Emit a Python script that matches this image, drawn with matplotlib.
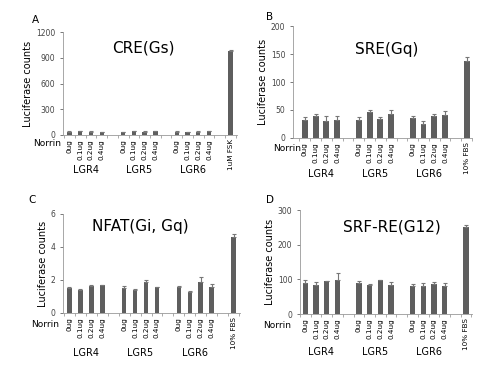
import numpy as np
import matplotlib
matplotlib.use('Agg')
import matplotlib.pyplot as plt

plt.rcParams['font.family'] = 'DejaVu Sans'

doses = ['0ug', '0.1ug', '0.2ug', '0.4ug']
groups = ['LGR4', 'LGR5', 'LGR6']

# panel A - CRE(Gs)
cre_vals = [38, 42, 40, 33, 35, 46, 38, 45, 38, 33, 38, 44, 980]
cre_err = [3, 3, 3, 2, 3, 4, 3, 4, 3, 3, 3, 6, 15]
# panel B - SRE(Gq)
sre_vals = [33, 40, 31, 32, 33, 46, 34, 42, 35, 25, 40, 41, 137]
sre_err = [4, 2, 8, 8, 4, 4, 3, 8, 4, 5, 3, 7, 8]
# panel C - NFAT(Gi, Gq)
nfat_vals = [1.5, 1.4, 1.65, 1.68, 1.5, 1.4, 1.9, 1.55, 1.6, 1.3, 1.9, 1.55, 4.6]
nfat_err = [0.1, 0.08, 0.04, 0.03, 0.15, 0.08, 0.1, 0.03, 0.05, 0.03, 0.3, 0.18, 0.2]
# panel D - SRF-RE(G12)
srf_vals = [90, 83, 95, 98, 90, 83, 98, 83, 80, 80, 88, 80, 250]
srf_err = [8, 10, 0, 20, 5, 5, 0, 10, 6, 10, 5, 10, 7]

x = np.array([0, 1, 2, 3, 5, 6, 7, 8, 10, 11, 12, 13, 15])
bar_c = '#5e5e5e'

fig = plt.figure(figsize=(5.0, 3.78), dpi=100)


def panel(rect, vals, err, ylim, yticks, title, title_pos, letter, last, width, xlim,
          grp_y, norrin_xy):
    ax = fig.add_axes(rect)
    ax.bar(x, vals, width=width, color=bar_c)
    ax.errorbar(x, vals, yerr=[np.zeros(len(err)), err], fmt='none',
                ecolor='#777777', elinewidth=0.8, capsize=1.5, capthick=0.8)
    ax.set_ylim(ylim)
    ax.set_xlim(xlim)
    ax.set_yticks(yticks)
    ax.tick_params(axis='y', labelsize=5.5, length=2, width=0.5, colors='#444444')
    labels = doses * 3 + [last]
    ax.set_xticks(x)
    ax.set_xticklabels(labels, rotation=90, fontsize=5.2)
    ax.tick_params(axis='x', length=0, pad=3)
    # little separators on the baseline
    ax.set_xticks(np.arange(-0.5, 15.6, 1.0), minor=True)
    ax.tick_params(axis='x', which='minor', length=2, width=0.5, color='#888888')
    for s in ['top', 'right']:
        ax.spines[s].set_visible(False)
    for s in ['left', 'bottom']:
        ax.spines[s].set_color('#999999')
        ax.spines[s].set_linewidth(0.6)
    ax.set_ylabel('Luciferase counts', fontsize=7, labelpad=2)
    ax.text(title_pos[0], title_pos[1], title, transform=fig.transFigure,
            ha='center', va='center', fontsize=11)
    ax.text(letter[1], letter[2], letter[0], transform=fig.transFigure,
            ha='center', va='center', fontsize=7.5)
    ax.text(norrin_xy[0], norrin_xy[1], 'Norrin', transform=ax.transAxes,
            ha='right', va='center', fontsize=6.5)
    for i, g in enumerate(groups):
        ax.text(1.5 + 5 * i, grp_y, g, transform=ax.get_xaxis_transform(),
                ha='center', va='center', fontsize=7)
    return ax


panel([0.126, 0.643, 0.348, 0.272], cre_vals, cre_err, (0, 1200),
      [0, 300, 600, 900, 1200], 'CRE(Gs)', (0.286, 0.873), ('A', 0.07, 0.947),
      '1uM FSK', 0.4, (-0.6, 15.6), -0.34, (-0.01, -0.085))
panel([0.586, 0.635, 0.358, 0.296], sre_vals, sre_err, (0, 200),
      [0, 50, 100, 150, 200], 'SRE(Gq)', (0.774, 0.868), ('B', 0.54, 0.955),
      '10% FBS', 0.55, (-1.1, 15.5), -0.32, (0.045, -0.09))
panel([0.126, 0.172, 0.354, 0.262], nfat_vals, nfat_err, (0, 6),
      [0, 2, 4, 6], 'NFAT(Gi, Gq)', (0.28, 0.4), ('C', 0.064, 0.471),
      '10% FBS', 0.45, (-0.55, 15.55), -0.4, (-0.02, -0.12))
panel([0.6, 0.169, 0.344, 0.275], srf_vals, srf_err, (0, 300),
      [0, 100, 200, 300], 'SRF-RE(G12)', (0.784, 0.4), ('D', 0.54, 0.471),
      '10% FBS', 0.5, (-0.4, 15.55), -0.36, (-0.05, -0.105))

fig.savefig('out.png', dpi=100)
